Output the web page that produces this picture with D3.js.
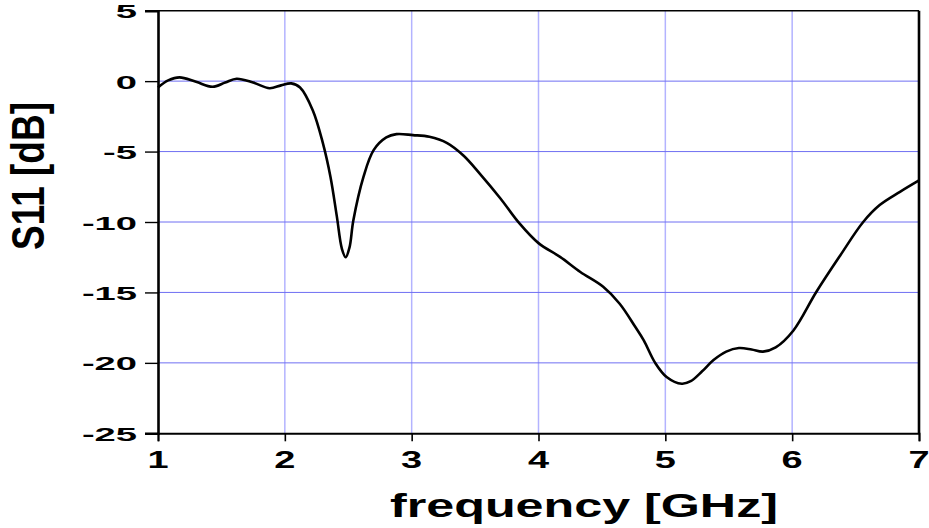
<!DOCTYPE html>
<html>
<head>
<meta charset="utf-8">
<script src="https://cdn.jsdelivr.net/npm/d3@7"></script>
<style>
  html, body { margin: 0; padding: 0; background: #fff; }
  svg { display: block; font-family: "Liberation Sans", Arial, sans-serif; font-weight: bold; }
</style>
</head>
<body>
<svg id="chart" width="929" height="528"></svg>
<script>
// S11 curve
let freq = [1.00, 1.08, 1.17, 1.30, 1.43, 1.53, 1.62, 1.75, 1.88, 1.97, 2.05, 2.12,
            2.22, 2.30, 2.36, 2.41, 2.45, 2.48, 2.51, 2.54, 2.62, 2.70, 2.80, 2.88,
            3.01, 3.14, 3.28, 3.41, 3.54, 3.70, 3.85, 4.00, 4.17, 4.33, 4.51, 4.64,
            4.76, 4.83, 4.92, 5.01, 5.13, 5.20, 5.29, 5.38, 5.48, 5.58, 5.68, 5.77, 5.87, 6.01,
            6.19, 6.38, 6.56, 6.69, 6.85, 7.00];
let s11 = [-0.45, 0.05, 0.27, -0.05, -0.40, -0.10, 0.17, -0.10, -0.50, -0.30, -0.16, -0.45,
           -2.06, -4.4, -6.8, -9.6, -11.9, -12.5, -11.8, -9.9, -6.8, -4.9, -4.0, -3.76,
           -3.83, -3.95, -4.4, -5.3, -6.6, -8.33, -10.1, -11.5, -12.48, -13.55, -14.6, -15.8,
           -17.4, -18.4, -20.0, -21.0, -21.48, -21.3, -20.6, -19.8, -19.2, -18.95, -19.05, -19.2, -18.9, -17.7,
           -14.97, -12.36, -10.0, -8.8, -7.86, -7.05];

let xTicks = [1, 2, 3, 4, 5, 6, 7];
let yTicks = [5, 0, -5, -10, -15, -20, -25];

let svg = d3.select("#chart");

let plotLeft = 158, plotRight = 919, plotTop = 10.7, plotBottom = 433.3;

let xScale = d3.scaleLinear().domain([1, 7]).range([plotLeft, plotRight]);
let yScale = d3.scaleLinear().domain([-25, 5]).range([plotBottom, plotTop]);

let points = freq.map((f, i) => [f, s11[i]]);

// grid
svg.append("g")
    .selectAll("line")
    .data(xTicks.filter(t => t > 1 && t < 7))
    .join("line")
    .attr("x1", d => xScale(d)).attr("x2", d => xScale(d))
    .attr("y1", plotTop).attr("y2", plotBottom)
    .style("stroke", "#b3b3ff")
    .style("stroke-width", 1.5)

svg.append("g")
    .selectAll("line")
    .data(yTicks.filter(t => t < 5 && t > -25))
    .join("line")
    .attr("x1", plotLeft).attr("x2", plotRight)
    .attr("y1", d => yScale(d)).attr("y2", d => yScale(d))
    .style("stroke", "#6f6ff2")
    .style("stroke-width", 1)

// frame
svg.append("line").attr("x1", plotLeft).attr("x2", plotRight).attr("y1", plotTop).attr("y2", plotTop)
    .style("stroke", "#000").style("stroke-width", 1.5)
svg.append("line").attr("x1", plotRight).attr("x2", plotRight).attr("y1", plotTop).attr("y2", plotBottom)
    .style("stroke", "#000").style("stroke-width", 2.6)

// axes
let yAxis = d3.axisLeft(yScale).tickValues(yTicks).tickSize(13).tickFormat("");
let yAxisGroup = svg.append("g")
    .attr("transform", `translate(${plotLeft},0)`)
    .call(yAxis)
yAxisGroup.select(".domain").style("stroke-width", 2.6)
yAxisGroup.selectAll(".tick line").style("stroke-width", 1.4)

let xAxis = d3.axisBottom(xScale).tickValues(xTicks).tickSize(8).tickFormat("");
let xAxisGroup = svg.append("g")
    .attr("transform", `translate(0,${plotBottom})`)
    .call(xAxis)
xAxisGroup.select(".domain").style("stroke-width", 2)
xAxisGroup.selectAll(".tick line").style("stroke-width", 1.6)

// tick labels (the picture's text is stretched sideways)
svg.append("g")
    .selectAll("text")
    .data(yTicks)
    .join("text")
    .attr("transform", d => `translate(137,${yScale(d) + 7.6}) scale(2.05,1)`)
    .attr("text-anchor", "end")
    .style("font-size", "18.6px")
    .text(d => d)

svg.append("g")
    .selectAll("text")
    .data(xTicks)
    .join("text")
    .attr("transform", d => `translate(${xScale(d)},468.3) scale(1.65,1)`)
    .attr("text-anchor", "middle")
    .style("font-size", "23px")
    .text(d => d)

// titles
svg.append("text")
    .attr("x", 584).attr("y", 517)
    .attr("text-anchor", "middle")
    .attr("textLength", 388)
    .attr("lengthAdjust", "spacingAndGlyphs")
    .style("font-size", "33px")
    .text("frequency [GHz]")

svg.append("text")
    .attr("transform", "translate(44,176) rotate(-90)")
    .attr("text-anchor", "middle")
    .attr("textLength", 148)
    .attr("lengthAdjust", "spacingAndGlyphs")
    .style("font-size", "46px")
    .text("S11 [dB]")

// curve
let line = d3.line()
    .x(d => xScale(d[0]))
    .y(d => yScale(d[1]))
    .curve(d3.curveCatmullRom.alpha(0.5))

svg.append("path")
    .datum(points)
    .attr("d", line)
    .style("fill", "none")
    .style("stroke", "#000")
    .style("stroke-width", 2.6)
</script>
</body>
</html>
